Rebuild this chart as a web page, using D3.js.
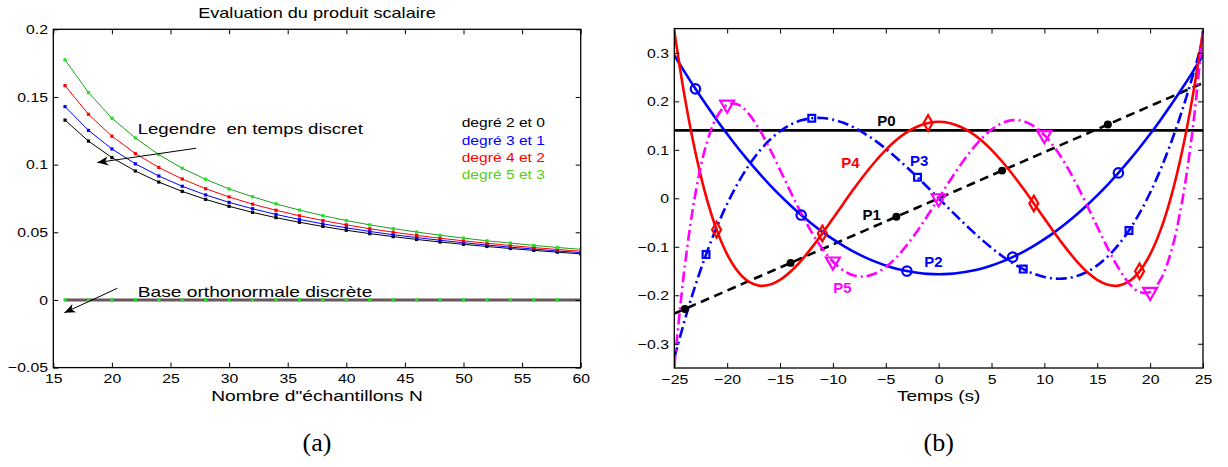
<!DOCTYPE html>
<html>
<head>
<meta charset="utf-8">
<script src="https://cdn.jsdelivr.net/npm/d3@7"></script>
<style>
  html, body { margin: 0; padding: 0; background: #fff; }
  svg { display: block; font-family: "Liberation Sans", Arial, Helvetica, sans-serif; }
</style>
</head>
<body>
<svg id="fig" width="1228" height="467"></svg>
<script>
// ---------- (a) scalar product versus number of samples ----------
const sampleCounts = [16,18,20,22,24,26,28,30,32,34,36,38,40,42,44,46,48,50,52,54,56,58,60];
const prodDeg20 = [0.1329,0.1174,0.1052,0.0953,0.0871,0.0802,0.0743,0.0692,0.0647,0.0608,0.0574,0.0543,0.0515,0.0490,0.0468,0.0447,0.0428,0.0411,0.0395,0.0380,0.0366,0.0353,0.0341];
const prodDeg31 = [0.1429,0.1253,0.1116,0.1006,0.0916,0.0840,0.0776,0.0721,0.0674,0.0632,0.0595,0.0562,0.0533,0.0506,0.0482,0.0461,0.0441,0.0423,0.0406,0.0390,0.0376,0.0362,0.0350];
const prodDeg42 = [0.1584,0.1372,0.1210,0.1082,0.0979,0.0894,0.0822,0.0761,0.0708,0.0663,0.0622,0.0587,0.0555,0.0526,0.0501,0.0477,0.0456,0.0437,0.0419,0.0402,0.0387,0.0373,0.0360];
const prodDeg53 = [0.1774,0.1533,0.1343,0.1197,0.1074,0.0973,0.0892,0.0820,0.0763,0.0710,0.0664,0.0623,0.0587,0.0555,0.0527,0.0502,0.0478,0.0457,0.0437,0.0420,0.0403,0.0388,0.0374];
const prodOrthoBase = [0,0,0,0,0,0,0,0,0,0,0,0,0,0,0,0,0,0,0,0,0,0,0];
const leftXTicks = [15,20,25,30,35,40,45,50,55,60];
const leftYTicks = [-0.05,0,0.05,0.1,0.15,0.2];
const leftYTickLabels = ["\u22120.05","0","0.05","0.1","0.15","0.2"];
const leftLegend = ["degré 2 et 0","degré 3 et 1","degré 4 et 2","degré 5 et 3"];

// ---------- (b) discrete orthonormal polynomials P0..P5 ----------
const times = [-25,-24,-23,-22,-21,-20,-19,-18,-17,-16,-15,-14,-13,-12,-11,-10,-9,-8,-7,-6,-5,-4,-3,-2,-1,0,1,2,3,4,5,6,7,8,9,10,11,12,13,14,15,16,17,18,19,20,21,22,23,24,25];
const poly0 = [0.14,0.14,0.14,0.14,0.14,0.14,0.14,0.14,0.14,0.14,0.14,0.14,0.14,0.14,0.14,0.14,0.14,0.14,0.14,0.14,0.14,0.14,0.14,0.14,0.14,0.14,0.14,0.14,0.14,0.14,0.14,0.14,0.14,0.14,0.14,0.14,0.14,0.14,0.14,0.14,0.14,0.14,0.14,0.14,0.14,0.14,0.14,0.14,0.14,0.14,0.14];
const poly1 = [-0.2378,-0.2283,-0.2188,-0.2093,-0.1998,-0.1903,-0.1807,-0.1712,-0.1617,-0.1522,-0.1427,-0.1332,-0.1237,-0.1142,-0.1046,-0.0951,-0.0856,-0.0761,-0.0666,-0.0571,-0.0476,-0.0381,-0.0285,-0.0190,-0.0095,0,0.0095,0.0190,0.0285,0.0381,0.0476,0.0571,0.0666,0.0761,0.0856,0.0951,0.1046,0.1142,0.1237,0.1332,0.1427,0.1522,0.1617,0.1712,0.1807,0.1903,0.1998,0.2093,0.2188,0.2283,0.2378];
const poly2 = [0.2952,0.2598,0.2258,0.1933,0.1622,0.1325,0.1043,0.0776,0.0523,0.0284,0.0060,-0.0149,-0.0345,-0.0525,-0.0692,-0.0843,-0.0981,-0.1104,-0.1212,-0.1306,-0.1386,-0.1451,-0.1501,-0.1537,-0.1559,-0.1566,-0.1559,-0.1537,-0.1501,-0.1451,-0.1386,-0.1306,-0.1212,-0.1104,-0.0981,-0.0843,-0.0692,-0.0525,-0.0345,-0.0149,0.0060,0.0284,0.0523,0.0776,0.1043,0.1325,0.1622,0.1933,0.2258,0.2598,0.2952];
const poly3 = [-0.3293,-0.2503,-0.1793,-0.1161,-0.0602,-0.0114,0.0307,0.0663,0.0960,0.1199,0.1384,0.1520,0.1608,0.1652,0.1656,0.1623,0.1557,0.1460,0.1336,0.1189,0.1022,0.0837,0.0640,0.0432,0.0218,0,-0.0218,-0.0432,-0.0640,-0.0837,-0.1022,-0.1189,-0.1336,-0.1460,-0.1557,-0.1623,-0.1656,-0.1652,-0.1608,-0.1520,-0.1384,-0.1199,-0.0960,-0.0663,-0.0307,0.0114,0.0602,0.1161,0.1793,0.2503,0.3293];
const poly4 = [0.3452,0.2071,0.0944,0.0046,-0.0647,-0.1157,-0.1506,-0.1714,-0.1801,-0.1784,-0.1682,-0.1510,-0.1284,-0.1018,-0.0725,-0.0417,-0.0105,0.0201,0.0491,0.0759,0.0998,0.1200,0.1363,0.1482,0.1554,0.1578,0.1554,0.1482,0.1363,0.1200,0.0998,0.0759,0.0491,0.0201,-0.0105,-0.0417,-0.0725,-0.1018,-0.1284,-0.1510,-0.1682,-0.1784,-0.1801,-0.1714,-0.1506,-0.1157,-0.0647,0.0046,0.0944,0.2071,0.3452];
const poly5 = [-0.3459,-0.1384,0.0099,0.1087,0.1671,0.1930,0.1936,0.1753,0.1436,0.1034,0.0587,0.0131,-0.0306,-0.0702,-0.1038,-0.1304,-0.1490,-0.1593,-0.1612,-0.1552,-0.1418,-0.1218,-0.0964,-0.0667,-0.0341,0,0.0341,0.0667,0.0964,0.1218,0.1418,0.1552,0.1612,0.1593,0.1490,0.1304,0.1038,0.0702,0.0306,-0.0131,-0.0587,-0.1034,-0.1436,-0.1753,-0.1936,-0.1930,-0.1671,-0.1087,-0.0099,0.1384,0.3459];
const rightXTicks = [-25,-20,-15,-10,-5,0,5,10,15,20,25];
const rightXTickLabels = ["\u221225","\u221220","\u221215","\u221210","\u22125","0","5","10","15","20","25"];
const rightYTicks = [-0.3,-0.2,-0.1,0,0.1,0.2,0.3];
const rightYTickLabels = ["\u22120.3","\u22120.2","\u22120.1","0","0.1","0.2","0.3"];
const polyNames = ["P0","P1","P2","P3","P4","P5"];

const svg = d3.select("#fig");
const SANS = '"Liberation Sans", Arial, Helvetica, sans-serif';
const SERIF = '"Liberation Serif", "DejaVu Serif", serif';

// text helper with optional horizontal stretch
function label(g, x, y, str, o = {}) {
  return g.append("text")
    .attr("transform", `translate(${x},${y}) scale(${o.sx || 1},1)`)
    .attr("text-anchor", o.anchor || "start")
    .style("font-family", o.family || SANS)
    .style("font-size", (o.size || 12) + "px")
    .style("font-weight", o.weight || "normal")
    .style("white-space", "pre")
    .attr("fill", o.fill || "#000")
    .text(str);
}

// inward-ticked box axes in MATLAB style
function boxAxes(g, x, y, xt, xl, yt, yl) {
  const [x0, x1] = x.range(), [y0, y1] = y.range();
  const tick = 5;
  const bottom = g.append("g").attr("transform", `translate(0,${y0})`)
    .call(d3.axisBottom(x).tickValues(xt).tickFormat((d, i) => xl[i]).tickSizeInner(-tick).tickSizeOuter(0).tickPadding(6));
  const top = g.append("g").attr("transform", `translate(0,${y1})`)
    .call(d3.axisTop(x).tickValues(xt).tickFormat("").tickSizeInner(-tick).tickSizeOuter(0));
  const left = g.append("g").attr("transform", `translate(${x0},0)`)
    .call(d3.axisLeft(y).tickValues(yt).tickFormat((d, i) => yl[i]).tickSizeInner(-tick).tickSizeOuter(0).tickPadding(4.5));
  const right = g.append("g").attr("transform", `translate(${x1},0)`)
    .call(d3.axisRight(y).tickValues(yt).tickFormat("").tickSizeInner(-tick).tickSizeOuter(0));
  [bottom, top, left, right].forEach(a => {
    a.attr("font-family", null).attr("font-size", null);
    a.select(".domain").remove();
    a.selectAll("line").attr("stroke", "#000").attr("stroke-width", 1);
    a.selectAll("text").attr("fill", "#000").attr("transform", "scale(1.17,1)")
      .style("font-family", SANS).style("font-size", "13.5px");
  });
  g.append("rect").attr("x", x0).attr("y", y1).attr("width", x1 - x0).attr("height", y0 - y1)
    .attr("fill", "none").attr("stroke", "#000").attr("stroke-width", 1.3);
}

function arrow(g, x1, y1, x2, y2) {
  g.append("line").attr("x1", x1).attr("y1", y1).attr("x2", x2).attr("y2", y2)
    .attr("stroke", "#000").attr("stroke-width", 1);
  const a = Math.atan2(y2 - y1, x2 - x1) * 180 / Math.PI;
  g.append("path").attr("d", "M0,0 L-11,-4.5 L-8,0 L-11,4.5 Z")
    .attr("transform", `translate(${x2},${y2}) rotate(${a})`).attr("fill", "#000");
}

// ================= Panel (a) =================
{
  const x = d3.scaleLinear().domain([15, 60]).range([53.3, 580.7]);
  const y = d3.scaleLinear().domain([-0.05, 0.2]).range([367.6, 29.3]);
  const g = svg.append("g");
  g.append("clipPath").attr("id", "clipA").append("rect")
    .attr("x", 53.3).attr("y", 29.3).attr("width", 527.4).attr("height", 338.3);
  const plot = g.append("g").attr("clip-path", "url(#clipA)");

  const series = [
    { v: prodDeg20, line: "#000000", dot: "#000000" },
    { v: prodDeg31, line: "#0000ff", dot: "#0000ff" },
    { v: prodDeg42, line: "#ff0000", dot: "#ff0000" },
    { v: prodDeg53, line: "#1e9e1e", dot: "#22e022" }
  ];
  const line = d3.line().x((d, i) => x(sampleCounts[i])).y(d => y(d));

  // discrete orthonormal base: every scalar product is zero
  plot.append("path").datum(prodOrthoBase).attr("d", line)
    .attr("fill", "none").attr("stroke", "#66585c").attr("stroke-width", 3);
  plot.selectAll(".z").data(prodOrthoBase).join("rect")
    .attr("x", (d, i) => x(sampleCounts[i]) - 1.6).attr("y", d => y(d) - 1.6)
    .attr("width", 3.2).attr("height", 3.2).attr("fill", "#22e022");

  series.forEach(s => {
    plot.append("path").datum(s.v).attr("d", line)
      .attr("fill", "none").attr("stroke", s.line).attr("stroke-width", 1);
    plot.selectAll(null).data(s.v).join("rect")
      .attr("x", (d, i) => x(sampleCounts[i]) - 1.6).attr("y", d => y(d) - 1.6)
      .attr("width", 3.2).attr("height", 3.2).attr("fill", s.dot);
  });

  boxAxes(g, x, y, leftXTicks, leftXTicks.map(String), leftYTicks, leftYTickLabels);

  label(g, 317, 18.3, "Evaluation du produit scalaire", { size: 14.5, anchor: "middle", sx: 1.25 });
  label(g, 317, 401, "Nombre d\"échantillons N", { size: 15.5, anchor: "middle", sx: 1.24 });
  label(g, 317, 451, "(a)", { size: 26, anchor: "middle", family: SERIF });

  // annotations
  label(g, x(22.2), y(0.1227), "Legendre  en temps discret", { size: 15, sx: 1.24 });
  arrow(g, x(27.18), y(0.1121), x(18.75), y(0.1015));
  label(g, x(22.2), y(0.0024), "Base orthonormale discrète", { size: 15, sx: 1.28 });
  arrow(g, x(20.46), y(0.0086), x(15.94), y(-0.0095));

  // legend text block
  const legColors = ["#000000", "#0000ff", "#ff0000", "#5ccc1c"];
  leftLegend.forEach((t, i) => {
    label(g, 461.7, 127.3 + i * 17.3, t, { size: 13, sx: 1.2, fill: legColors[i] });
  });
}

// ================= Panel (b) =================
{
  const x = d3.scaleLinear().domain([-25, 25]).range([674.3, 1203]);
  const y = d3.scaleLinear().domain([-0.35, 0.35]).range([368, 28.6]);
  const g = svg.append("g");
  g.append("clipPath").attr("id", "clipB").append("rect")
    .attr("x", 674.3).attr("y", 28.6).attr("width", 528.7).attr("height", 339.4);
  const plot = g.append("g").attr("clip-path", "url(#clipB)");

  const curve = d3.line().curve(d3.curveCatmullRom.alpha(0.5))
    .x((d, i) => x(times[i])).y(d => y(d));

  const polys = [
    { v: poly0, color: "#000000", dash: null, marker: null, offset: 0 },
    { v: poly1, color: "#000000", dash: "9,5.5", marker: "dot", offset: 1 },
    { v: poly2, color: "#0000ff", dash: null, marker: "circle", offset: 2 },
    { v: poly3, color: "#0000ff", dash: "11,4,2,4", marker: "square", offset: 3 },
    { v: poly4, color: "#ff0000", dash: null, marker: "diamond", offset: 4 },
    { v: poly5, color: "#ff00ff", dash: "11,4,2,4", marker: "triangle", offset: 5 }
  ];

  polys.forEach(p => {
    const path = plot.append("path").datum(p.v).attr("d", curve)
      .attr("fill", "none").attr("stroke", p.color).attr("stroke-width", 2.6);
    if (p.dash) path.attr("stroke-dasharray", p.dash);
  });

  const symbols = {
    dot: d3.symbol(d3.symbolCircle, 50),
    circle: d3.symbol(d3.symbolCircle, 70),
    square: d3.symbol(d3.symbolSquare, 46),
    diamond: d3.symbol(d3.symbolDiamond, 70),
    triangle: d3.symbol(d3.symbolTriangle, 85)
  };
  polys.forEach(p => {
    if (!p.marker) return;
    const pts = p.v.map((v, i) => ({ t: times[i], v, i })).filter(d => d.i >= p.offset && (d.i - p.offset) % 10 === 0);
    plot.selectAll(null).data(pts).join("path")
      .attr("d", symbols[p.marker])
      .attr("transform", d => `translate(${x(d.t)},${y(d.v)})` + (p.marker === "triangle" ? " rotate(180)" : ""))
      .attr("fill", p.marker === "dot" ? p.color : "none")
      .attr("stroke", p.color)
      .attr("stroke-width", p.marker === "dot" ? 0 : 2.2);
  });

  boxAxes(g, x, y, rightXTicks, rightXTickLabels, rightYTicks, rightYTickLabels);

  label(g, 938.7, 401, "Temps (s)", { size: 15, anchor: "middle", sx: 1.27 });
  label(g, 938.7, 451, "(b)", { size: 26, anchor: "middle", family: SERIF });

  // curve names
  const nameSpots = [
    { t: -5.8, v: 0.149, c: "#000000" },
    { t: -7.2, v: -0.045, c: "#000000" },
    { t: -1.36, v: -0.141, c: "#0000ff" },
    { t: -2.7, v: 0.067, c: "#0000ff" },
    { t: -9.2, v: 0.063, c: "#ff0000" },
    { t: -9.96, v: -0.196, c: "#ff00ff" }
  ];
  polyNames.forEach((n, i) => {
    const s = nameSpots[i];
    label(g, x(s.t), y(s.v), n, { size: 15, weight: "bold", fill: s.c });
  });
}
</script>
</body>
</html>
